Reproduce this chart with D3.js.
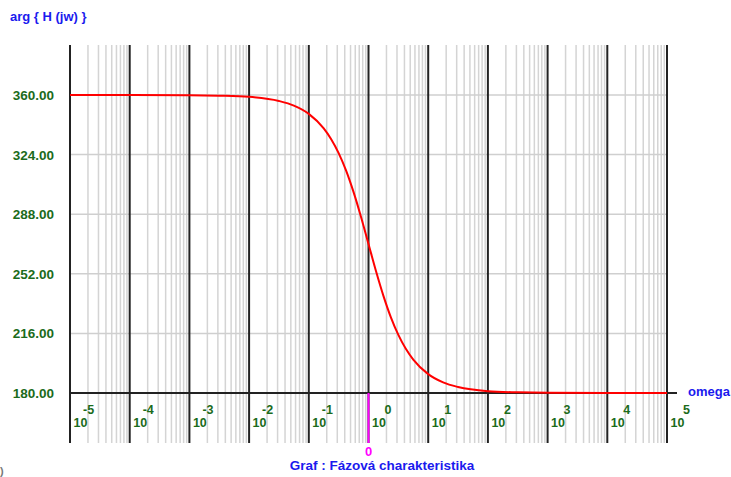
<!DOCTYPE html>
<html><head><meta charset="utf-8">
<script src="https://cdn.jsdelivr.net/npm/d3@7"></script>
<style>
body{margin:0;background:#fff;}
svg{display:block;}
text{font-family:"Liberation Sans",Arial,sans-serif;font-weight:bold;}
</style></head>
<body>
<svg id="c" width="731" height="477"></svg>
<script>
// Data: log10(omega) and phase in degrees
const logOmega = [-5, -4, -3, -2.5, -2, -1.5, -1.25, -1, -0.75, -0.625, -0.5, -0.375, -0.25, -0.125, 0, 0.125, 0.25, 0.375, 0.5, 0.625, 0.75, 1, 1.25, 1.5, 2, 2.5, 3, 4, 5];
const phase    = [360, 360, 359.9, 359.6, 358.9, 356.4, 353.6, 348.6, 339.8, 333.3, 324.9, 314.3, 301.3, 286.3, 270, 253.7, 238.7, 225.7, 215.1, 206.7, 200.2, 191.4, 186.4, 183.6, 181.1, 180.4, 180.1, 180, 180];
const yTicks = [180, 216, 252, 288, 324, 360];
const decades = [-5, -4, -3, -2, -1, 0, 1, 2, 3, 4, 5];
const yTitle = "arg { H (jw) }";
const xTitle = "omega";
const chartTitle = "Graf : Fázová charakteristika";
const markerLabel = "0";

const svg = d3.select("#c");
const x = d3.scaleLog().domain([1e-5, 1e5]).range([70, 667]);
const y = d3.scaleLinear().domain([180, 360]).range([393, 95]);
const gTop = 45, gBottom = 443;
const green = "#1b6b1b", blue = "#1a1aee";

// minor vertical grid lines
const minors = [];
decades.slice(0, -1).forEach(d => { for (let m = 2; m <= 9; m++) minors.push(m * Math.pow(10, d)); });
svg.append("g").selectAll("line").data(minors).join("line")
  .attr("x1", d => x(d)).attr("x2", d => x(d)).attr("y1", gTop).attr("y2", gBottom)
  .attr("stroke", "#d4d4d4").attr("stroke-width", 1.5);

// horizontal grid lines
svg.append("g").selectAll("line").data(yTicks).join("line")
  .attr("x1", 70).attr("x2", 667).attr("y1", d => y(d)).attr("y2", d => y(d))
  .attr("stroke", "#cfcfcf").attr("stroke-width", 1.5);

// decade lines
svg.append("g").selectAll("line").data(decades).join("line")
  .attr("x1", d => x(Math.pow(10, d))).attr("x2", d => x(Math.pow(10, d))).attr("y1", gTop).attr("y2", gBottom)
  .attr("stroke", "#222").attr("stroke-width", 2);

// x axis line
svg.append("line").attr("x1", 70).attr("x2", 677).attr("y1", y(180)).attr("y2", y(180))
  .attr("stroke", "#222").attr("stroke-width", 2);

// magenta marker at omega = 1
svg.append("line").attr("x1", x(1)).attr("x2", x(1)).attr("y1", y(180)).attr("y2", gBottom)
  .attr("stroke", "#ff00ff").attr("stroke-width", 2);
svg.append("text").attr("x", x(1)).attr("y", 456).attr("text-anchor", "middle")
  .attr("fill", "#ff00ff").attr("font-size", 13).text(markerLabel);

// curve
const pts = logOmega.map((l, i) => [Math.pow(10, l), phase[i]]);
svg.append("path").datum(pts)
  .attr("d", d3.line().x(d => x(d[0])).y(d => y(d[1])).curve(d3.curveMonotoneX))
  .attr("fill", "none").attr("stroke", "#ff0000").attr("stroke-width", 2);

// y tick labels
svg.append("g").selectAll("text").data(yTicks).join("text")
  .attr("x", 54).attr("y", d => y(d) + 5).attr("text-anchor", "end")
  .attr("fill", green).attr("font-size", 13.5).text(d => d.toFixed(2));

// x tick labels
const xl = svg.append("g").selectAll("g").data(decades).join("g")
  .attr("transform", d => `translate(${x(Math.pow(10, d))},0)`);
xl.append("text").attr("x", 3.5).attr("y", 427).attr("fill", green).attr("font-size", 12.5).text("10");
xl.append("text").attr("x", d => d < 0 ? 13 : 16).attr("y", 414).attr("fill", green).attr("font-size", 12.5).text(d => d);

// titles
svg.append("text").attr("x", 10).attr("y", 21).attr("fill", blue).attr("font-size", 13).text(yTitle);
svg.append("text").attr("x", 688).attr("y", 396).attr("fill", blue).attr("font-size", 13).text(xTitle);
svg.append("text").attr("x", 382).attr("y", 470).attr("text-anchor", "middle").attr("fill", blue).attr("font-size", 13.5).text(chartTitle);
svg.append("text").attr("x", 0).attr("y", 475).attr("fill", "#777").attr("font-size", 11).attr("font-weight", "normal").text(")");
</script>
</body></html>
